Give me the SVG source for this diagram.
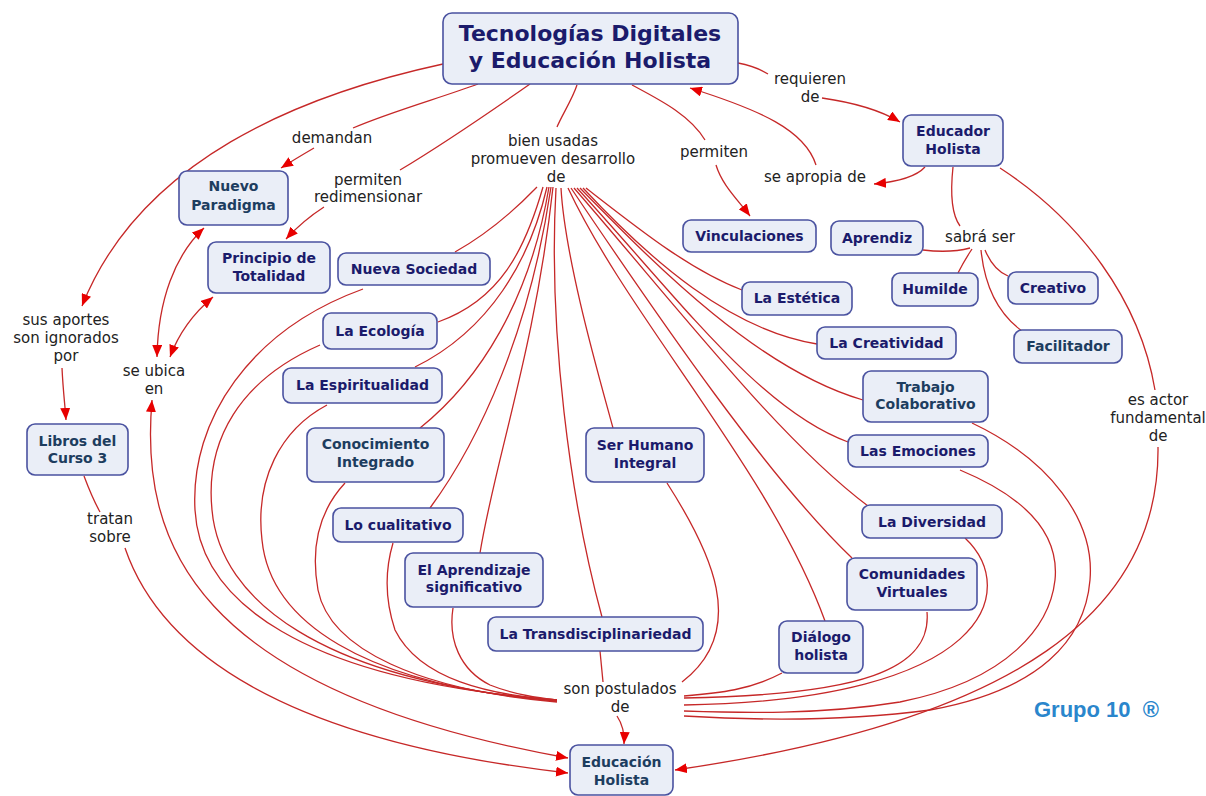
<svg xmlns="http://www.w3.org/2000/svg" width="1206" height="796" viewBox="0 0 1206 796">
<defs>
<marker id="ah" viewBox="0 0 12 10" refX="12" refY="5" markerWidth="12" markerHeight="10" markerUnits="userSpaceOnUse" orient="auto-start-reverse"><path d="M0,0 L12,5 L0,10 z" fill="#e80000"/></marker>
<style>
.n rect{fill:#eaeef7;stroke:#4a52a0;stroke-width:1.6}
.n text{font-family:"DejaVu Sans",Verdana,sans-serif;font-weight:bold;font-size:14px;fill:#1b1b6b;text-anchor:middle}
.n.t text{fill:#1d3d5f}
.lb{font-family:"DejaVu Sans",Verdana,sans-serif;font-size:15px;fill:#222;text-anchor:middle}
#conn path{fill:none;stroke:#c62828;stroke-width:1.3}
.a{marker-end:url(#ah)}
.b{marker-start:url(#ah);marker-end:url(#ah)}
</style>
</defs>
<rect width="1206" height="796" fill="#fff"/>
<g id="conn">
<path d="M478,84 C440,98 390,112 353,128"/>
<path class="a" d="M314,148 C302,155 292,161 281,168"/>
<path d="M530,84 C490,112 440,146 400,170"/>
<path class="a" d="M324,207 C310,216 298,226 286,239"/>
<path class="a" d="M443,64 C300,95 140,160 82,306"/>
<path class="a" d="M62,368 C63,390 65,405 66,420"/>
<path d="M84,476 C90,492 95,503 100,512"/>
<path class="a" d="M125,548 C160,650 280,740 568,773"/>
<path class="b" d="M157,357 C158,300 175,255 204,228"/>
<path class="b" d="M170,357 C180,330 195,312 213,297"/>
<path class="b" d="M152,400 C140,540 190,690 568,758"/>
<path d="M577,85 C572,100 562,115 557,127"/>
<path d="M632,85 C660,100 690,115 705,140"/>
<path class="a" d="M716,165 C722,185 738,200 750,216"/>
<path d="M738,63 Q755,66 768,74"/>
<path class="a" d="M822,98 C850,102 880,110 900,122"/>
<path class="a" d="M925,167 C915,178 895,182 874,184"/>
<path class="a" d="M816,165 C805,130 760,110 690,88"/>
<path d="M953,167 C950,195 952,215 960,226"/>
<path d="M970,248 C955,252 940,252 923,250"/>
<path d="M972,249 C966,258 962,265 958,273"/>
<path d="M985,250 C990,262 998,272 1008,276"/>
<path d="M981,250 C985,290 1000,315 1022,331"/>
<path d="M1000,168 C1080,220 1140,300 1155,390"/>
<path class="a" d="M1158,447 C1160,610 1020,720 675,770"/>
<path class="a" d="M617,716 Q625,728 624,744"/>
<path d="M537,187 C510,215 480,238 455,252"/>
<path d="M543,187 C525,250 500,300 438,322"/>
<path d="M547,187 C530,260 490,330 415,367"/>
<path d="M549,187 C530,300 480,380 420,428"/>
<path d="M551,187 C530,330 480,440 430,508"/>
<path d="M553,187 C535,350 495,460 480,553"/>
<path d="M556,188 C548,330 570,500 602,617"/>
<path d="M561,188 C565,260 600,380 613,428"/>
<path d="M568,188 C630,320 770,470 825,621"/>
<path d="M571,188 C660,320 770,480 852,558"/>
<path d="M574,188 C680,310 780,440 868,506"/>
<path d="M577,188 C680,300 760,410 848,442"/>
<path d="M580,188 C660,270 760,370 863,400"/>
<path d="M583,188 C650,260 730,330 817,344"/>
<path d="M586,188 C640,230 690,270 742,290"/>
<path d="M363,289 C250,330 190,420 195,510 C200,600 300,680 557,700"/>
<path d="M320,345 C240,380 205,440 212,510 C220,600 320,680 557,701"/>
<path d="M327,405 C280,430 255,480 262,540 C270,620 360,685 557,701"/>
<path d="M345,483 C320,510 310,545 318,590 C330,650 420,690 557,702"/>
<path d="M393,543 C385,570 385,600 395,630 C420,680 490,695 557,700"/>
<path d="M453,608 C448,640 460,670 490,685 C515,695 540,698 557,700"/>
<path d="M600,651 C601,662 602,672 603,682"/>
<path d="M667,483 C710,550 750,630 682,682"/>
<path d="M782,673 C750,690 720,693 684,696"/>
<path d="M927,612 C932,670 860,695 684,698"/>
<path d="M965,538 C1020,590 990,700 684,705"/>
<path d="M960,470 C1020,495 1060,530 1055,580 C1050,625 1010,680 900,702 C820,715 740,713 684,711"/>
<path d="M972,423 C1050,460 1095,520 1090,580 C1085,640 1040,690 930,710 C840,722 750,720 684,716"/>
</g>
<g id="main" class="n"><rect x="443" y="13" width="295" height="71" rx="9"/><text x="590" y="41" style="font-size:22px">Tecnologías Digitales</text><text x="590" y="68" style="font-size:22px">y Educación Holista</text></g>
<g id="educador" class="n"><rect x="903" y="115" width="100" height="51" rx="8"/><text x="953" y="136">Educador</text><text x="953" y="154">Holista</text></g>
<g id="nuevo-paradigma" class="n t"><rect x="179" y="171" width="109" height="54" rx="8"/><text x="233.5" y="191">Nuevo</text><text x="233.5" y="210">Paradigma</text></g>
<g id="principio" class="n"><rect x="208" y="242" width="122" height="51" rx="8"/><text x="269" y="263">Principio de</text><text x="269" y="281">Totalidad</text></g>
<g id="nueva-sociedad" class="n"><rect x="338" y="253" width="152" height="32" rx="8"/><text x="414" y="274">Nueva Sociedad</text></g>
<g id="vinculaciones" class="n"><rect x="683" y="220" width="133" height="32" rx="8"/><text x="749.5" y="241">Vinculaciones</text></g>
<g id="aprendiz" class="n"><rect x="831" y="221" width="92" height="34" rx="8"/><text x="877" y="243">Aprendiz</text></g>
<g id="humilde" class="n"><rect x="892" y="273" width="86" height="33" rx="8"/><text x="935" y="294">Humilde</text></g>
<g id="creativo" class="n"><rect x="1008" y="272" width="90" height="32" rx="8"/><text x="1053" y="293">Creativo</text></g>
<g id="estetica" class="n"><rect x="742" y="282" width="110" height="33" rx="8"/><text x="797" y="303">La Estética</text></g>
<g id="creatividad" class="n"><rect x="817" y="327" width="139" height="32" rx="8"/><text x="886.5" y="348">La Creatividad</text></g>
<g id="facilitador" class="n t"><rect x="1014" y="330" width="108" height="33" rx="8"/><text x="1068" y="351">Facilitador</text></g>
<g id="ecologia" class="n"><rect x="323" y="313" width="114" height="36" rx="8"/><text x="380" y="336">La Ecología</text></g>
<g id="espiritualidad" class="n"><rect x="283" y="368" width="159" height="35" rx="8"/><text x="362.5" y="390">La Espiritualidad</text></g>
<g id="trabajo" class="n t"><rect x="863" y="371" width="125" height="51" rx="8"/><text x="925.5" y="392">Trabajo</text><text x="925.5" y="409">Colaborativo</text></g>
<g id="emociones" class="n"><rect x="848" y="435" width="140" height="32" rx="8"/><text x="918" y="456">Las Emociones</text></g>
<g id="conocimiento" class="n t"><rect x="307" y="428" width="137" height="54" rx="8"/><text x="375.5" y="449">Conocimiento</text><text x="375.5" y="467">Integrado</text></g>
<g id="ser-humano" class="n"><rect x="586" y="428" width="118" height="54" rx="8"/><text x="645" y="450">Ser Humano</text><text x="645" y="468">Integral</text></g>
<g id="libros" class="n t"><rect x="27" y="424" width="101" height="51" rx="8"/><text x="77.5" y="446">Libros del</text><text x="77.5" y="463">Curso 3</text></g>
<g id="cualitativo" class="n"><rect x="333" y="508" width="130" height="34" rx="8"/><text x="398" y="530">Lo cualitativo</text></g>
<g id="diversidad" class="n"><rect x="862" y="505" width="140" height="33" rx="8"/><text x="932" y="527">La Diversidad</text></g>
<g id="aprendizaje" class="n"><rect x="405" y="553" width="138" height="54" rx="8"/><text x="474" y="575">El Aprendizaje</text><text x="474" y="592">significativo</text></g>
<g id="comunidades" class="n"><rect x="847" y="558" width="130" height="52" rx="8"/><text x="912" y="579">Comunidades</text><text x="912" y="597">Virtuales</text></g>
<g id="transdisciplinariedad" class="n"><rect x="488" y="617" width="215" height="34" rx="8"/><text x="595.5" y="639">La Transdisciplinariedad</text></g>
<g id="dialogo" class="n"><rect x="779" y="621" width="84" height="52" rx="8"/><text x="821" y="642">Diálogo</text><text x="821" y="660">holista</text></g>
<g id="educacion" class="n t"><rect x="570" y="745" width="103" height="50" rx="8"/><text x="621.5" y="767">Educación</text><text x="621.5" y="785">Holista</text></g>
<g id="labels">
<text class="lb" x="810" y="84">requieren</text><text class="lb" x="810" y="102">de</text>
<text class="lb" x="332" y="143">demandan</text>
<text class="lb" x="553" y="146">bien usadas</text><text class="lb" x="553" y="164">promueven desarrollo</text><text class="lb" x="556" y="182">de</text>
<text class="lb" x="714" y="157">permiten</text>
<text class="lb" x="815" y="182">se apropia de</text>
<text class="lb" x="368" y="185">permiten</text><text class="lb" x="368" y="202">redimensionar</text>
<text class="lb" x="980" y="242">sabrá ser</text>
<text class="lb" x="66" y="325">sus aportes</text><text class="lb" x="66" y="343">son ignorados</text><text class="lb" x="66" y="361">por</text>
<text class="lb" x="154" y="376">se ubica</text><text class="lb" x="154" y="394">en</text>
<text class="lb" x="1158" y="405">es actor</text><text class="lb" x="1158" y="423">fundamental</text><text class="lb" x="1158" y="441">de</text>
<text class="lb" x="110" y="524">tratan</text><text class="lb" x="110" y="542">sobre</text>
<text class="lb" x="620" y="694">son postulados</text><text class="lb" x="620" y="712">de</text>
<text x="1034" y="717" style="font-family:'Liberation Sans',Arial,sans-serif;font-weight:bold;font-size:22px;fill:#2a86cc;white-space:pre">Grupo 10  ®</text>
</g>
</svg>
